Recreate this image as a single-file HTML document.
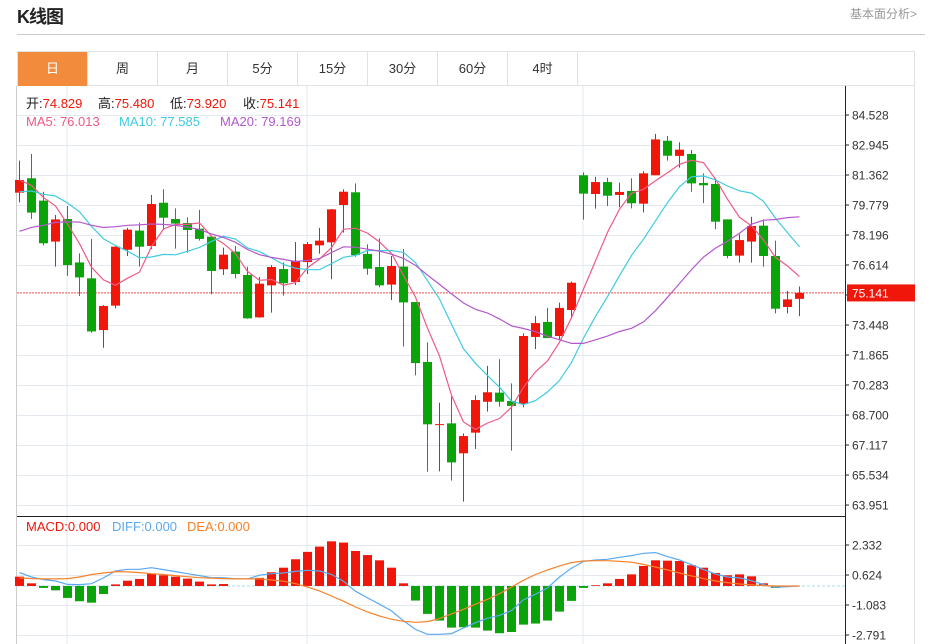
<!DOCTYPE html>
<html><head><meta charset="utf-8"><style>
body{margin:0;background:#fff;width:931px;height:644px;overflow:hidden;font-family:"Liberation Sans","Noto Sans CJK SC",sans-serif;}
#title{position:absolute;left:17px;top:3px;font-size:18px;font-weight:bold;color:#222;letter-spacing:-1px}
#more{position:absolute;right:14px;top:5px;font-size:12px;color:#999}
#hr{position:absolute;left:17px;top:34px;width:908px;height:1px;background:#ccc}
#tabs{position:absolute;left:17px;top:51px;height:35px;width:898px;border:1px solid #e2e2e2;box-sizing:border-box;display:flex}
.tab{width:70px;height:34px;line-height:34px;text-align:center;font-size:13px;color:#333;border-right:1px solid #e2e2e2;box-sizing:border-box;cursor:pointer}
.tab.on{background:#f28c3c;color:#fff}
svg{position:absolute;left:0;top:0}
</style></head><body>
<div id="title">K线图</div>
<div id="more">基本面分析&gt;</div>
<div id="hr"></div>
<div id="tabs">
<div class="tab on">日</div>
<div class="tab">周</div>
<div class="tab">月</div>
<div class="tab">5分</div>
<div class="tab">15分</div>
<div class="tab">30分</div>
<div class="tab">60分</div>
<div class="tab">4时</div>
</div>
<svg id="chart" width="931" height="644"></svg>
<script>
const opens=[80.43,81.19,80.01,77.85,79.04,76.75,75.91,73.18,74.47,77.42,78.43,77.62,79.90,79.04,78.83,78.53,78.11,76.39,77.32,76.09,73.85,75.54,76.40,75.72,76.77,77.65,77.81,79.78,80.45,77.20,76.51,75.58,76.53,74.66,71.50,68.21,68.26,66.68,67.77,69.40,69.88,69.44,69.28,72.82,73.61,72.87,74.24,81.35,80.36,80.99,80.31,80.52,79.85,81.35,83.17,82.37,82.47,80.94,80.89,79.02,77.11,77.85,78.69,77.09,74.40,74.829];
const closes=[81.10,79.38,77.76,79.02,76.61,75.96,73.11,74.45,77.58,78.48,77.58,79.83,79.11,78.80,78.46,77.99,76.30,77.16,76.14,73.80,75.63,76.51,75.65,76.84,77.72,77.90,79.55,80.48,77.14,76.42,75.54,76.56,74.64,71.44,68.21,68.22,66.20,67.59,69.49,69.90,69.40,69.18,72.87,73.55,72.76,74.35,75.68,80.38,80.99,80.27,80.47,79.87,81.45,83.24,82.38,82.70,80.92,80.82,78.90,77.09,77.93,78.67,77.09,74.31,74.80,75.141];
const highs=[82.12,82.47,80.48,79.25,79.73,77.23,77.99,74.50,77.60,78.57,78.85,80.31,80.61,79.60,79.13,79.52,78.11,77.53,77.62,76.53,75.98,76.60,76.75,77.83,77.83,78.57,79.57,80.61,80.92,77.70,78.02,77.09,77.46,74.66,72.53,69.35,69.67,67.73,69.74,71.29,71.65,70.37,73.01,73.92,74.35,74.63,75.74,81.50,81.27,81.22,80.96,81.19,81.56,83.53,83.42,83.09,82.68,81.45,81.10,79.02,78.23,79.16,79.02,77.90,75.24,75.48];
const lows=[79.92,79.04,77.65,76.53,76.05,74.98,73.05,72.25,74.33,77.09,76.53,77.46,78.46,77.48,77.27,77.90,75.07,76.09,75.91,73.78,73.83,74.10,75.00,75.56,76.14,77.21,75.86,78.32,77.05,76.10,75.44,74.77,72.31,70.79,65.71,65.73,65.24,64.13,66.91,68.88,69.14,66.82,69.11,72.18,72.76,72.66,73.77,79.01,79.59,79.73,79.66,79.60,79.39,81.35,82.12,81.75,80.48,79.88,78.50,76.97,76.74,76.74,76.53,74.06,74.06,73.92];
const priorCloses=[75.2,75.6,75.9,76.0,76.3,76.5,76.7,76.8,77.0,77.0,79.0,79.5,79.9,80.3,80.6,80.8,81.0,81.2,81.4];
const macdHist=[0.53,0.15,-0.11,-0.25,-0.68,-0.87,-0.95,-0.46,0.09,0.30,0.40,0.68,0.61,0.53,0.42,0.25,0.09,0.11,0.0,0.0,0.46,0.78,1.04,1.52,1.94,2.24,2.54,2.47,1.99,1.76,1.46,1.04,0.15,-0.83,-1.59,-1.97,-2.37,-2.35,-2.37,-2.54,-2.69,-2.62,-2.20,-2.14,-1.97,-1.46,-0.85,-0.11,0.04,0.15,0.40,0.66,1.14,1.46,1.44,1.42,1.18,1.04,0.74,0.61,0.66,0.55,0.15,-0.11,0.0,0.0];
const diffVals=[0.76,0.51,0.36,0.28,0.09,0.08,0.13,0.46,0.85,0.95,0.95,1.04,0.93,0.82,0.70,0.59,0.47,0.47,0.40,0.40,0.61,0.70,0.74,0.83,0.89,0.85,0.66,0.27,-0.30,-0.68,-1.04,-1.42,-1.98,-2.47,-2.75,-2.75,-2.71,-2.39,-2.09,-1.84,-1.67,-1.40,-0.78,-0.47,-0.11,0.51,1.01,1.40,1.48,1.52,1.63,1.73,1.86,1.90,1.67,1.48,1.21,0.93,0.68,0.51,0.46,0.30,0.08,-0.08,-0.04,0.0];
const deaVals=[0.46,0.42,0.40,0.40,0.42,0.51,0.65,0.74,0.82,0.80,0.76,0.70,0.65,0.59,0.53,0.47,0.44,0.42,0.40,0.40,0.40,0.34,0.27,0.13,-0.06,-0.28,-0.57,-0.87,-1.20,-1.48,-1.71,-1.90,-2.01,-2.07,-2.03,-1.86,-1.59,-1.33,-1.04,-0.76,-0.44,-0.06,0.32,0.65,0.91,1.14,1.33,1.42,1.44,1.44,1.40,1.35,1.23,1.08,0.91,0.74,0.57,0.42,0.28,0.19,0.11,0.06,0.02,0.0,0.0,0.0];
const priceTicks=[84.528,82.945,81.362,79.779,78.196,76.614,75.031,73.448,71.865,70.283,68.700,67.117,65.534,63.951];
const macdTicks=[2.332,0.624,-1.083,-2.791];
const lastPrice=75.141;

const NS='http://www.w3.org/2000/svg';
const svg=document.getElementById('chart');
function mk(tag,attrs,parent){const e=document.createElementNS(NS,tag);for(const k in attrs)e.setAttribute(k,attrs[k]);(parent||svg).appendChild(e);return e;}
const L=17,R=845;
const xOf=i=>19.5+12*i;
const yP=p=>115+(84.528-p)/1.5827*30;
const yM=v=>575+(0.624-v)/1.7075*30;
const RED='#f0160a',GREEN='#0aa30a';

let g=mk('g',{});


[67,307,583].forEach(x=>{mk('line',{x1:x,y1:86,x2:x,y2:644,stroke:'#e3e9ef','stroke-width':1},g);});
priceTicks.forEach((t,k)=>{ if(k===6)return; const y=Math.round(yP(t))+0.5; mk('line',{x1:L,y1:y,x2:R,y2:y,stroke:'#e3e9ef'},g);});
macdTicks.forEach(t=>{const y=Math.round(yM(t))+0.5; mk('line',{x1:L,y1:y,x2:R,y2:y,stroke:'#e3e9ef'},g);});
mk('line',{x1:16.5,y1:86,x2:16.5,y2:644,stroke:'#ccc'},g);
mk('line',{x1:914.5,y1:86,x2:914.5,y2:644,stroke:'#e2e2e2'},g);
mk('line',{x1:L,y1:516.5,x2:R,y2:516.5,stroke:'#222'},g);
mk('line',{x1:845.5,y1:86,x2:845.5,y2:644,stroke:'#222'},g);

priceTicks.forEach(t=>{const y=yP(t);
 const tk=mk('line',{x1:845,y1:y,x2:849,y2:y,stroke:'#222'});
 
 
 if(Math.abs(t-75.031)<0.01) return;
 const tx=mk('text',{x:852,y:y+4.5,'font-size':12,fill:'#333'});tx.textContent=t.toFixed(3);
 
 
});
macdTicks.forEach(t=>{const y=yM(t);
 mk('line',{x1:845,y1:y,x2:849,y2:y,stroke:'#222'});
 const tx=mk('text',{x:852,y:y+4.5,'font-size':12,fill:'#333'});tx.textContent=t.toFixed(3);
 
 
});

const ly=yP(lastPrice);
const pl=mk('line',{x1:L,y1:ly,x2:R,y2:ly,stroke:'#f05050','stroke-dasharray':'2,1','stroke-width':1});


const tagR=mk('rect',{x:847,y:ly-8.5,width:68,height:17,fill:'#f0160a'});


const tagT=mk('text',{x:852,y:ly+4.5,'font-size':12,fill:'#fff'});tagT.textContent=lastPrice.toFixed(3);



opens.forEach((o,i)=>{const c=closes[i],h=highs[i],l=lows[i];
 const up=c>=o, col=up?RED:GREEN, x=xOf(i);
 const cg=mk('g',{});
 
 
 mk('line',{x1:x,y1:yP(h),x2:x,y2:yP(l),stroke:col,'stroke-width':1},cg);
 const top=yP(Math.max(o,c)),bot=yP(Math.min(o,c));
 mk('rect',{x:x-4.5,y:top,width:9,height:Math.max(1,bot-top),fill:col},cg);
});

const all=priorCloses.concat(closes),P=priorCloses.length;
function ma(n){return closes.map((_,i)=>{let s=0;for(let k=0;k<n;k++)s+=all[P+i-k];return s/n;});}
[[5,'#ee5a84','ma5-line'],[10,'#3fcbe0','ma10-line'],[20,'#b358cc','ma20-line']].forEach(([n,col,name])=>{
 const v=ma(n);
 const p=mk('polyline',{points:v.map((m,i)=>xOf(i)+','+yP(m).toFixed(1)).join(' '),fill:'none',stroke:col,'stroke-width':1.2});
 
 
});

const z=yM(0);
const zl=mk('line',{x1:L,y1:z,x2:R,y2:z,stroke:'#a8d8ec','stroke-dasharray':'3,2'});


macdHist.forEach((v,i)=>{if(Math.abs(v)<0.02)return;
 const y=yM(v),x=xOf(i);
 const b=mk('rect',{x:x-4.5,y:Math.min(y,z),width:9,height:Math.abs(y-z),fill:v>0?RED:GREEN});
 
 
});
[[diffVals,'#5aa9f0','diff-line'],[deaVals,'#f7822a','dea-line']].forEach(([arr,col,name])=>{
 const p=mk('polyline',{points:arr.map((m,i)=>xOf(i)+','+yM(m).toFixed(1)).join(' '),fill:'none',stroke:col,'stroke-width':1.2});
 
 
});

function leg(x,y,parts,name){const t=mk('text',{x:x,y:y,'font-size':13});
 
 
 parts.forEach(([s,c])=>{const sp=mk('tspan',{fill:c},t);sp.textContent=s;});}
leg(26,108,[['开:','#222'],['74.829','#f0160a']],'open-legend');
leg(98,108,[['高:','#222'],['75.480','#f0160a']],'high-legend');
leg(170,108,[['低:','#222'],['73.920','#f0160a']],'low-legend');
leg(243,108,[['收:','#222'],['75.141','#f0160a']],'close-legend');
leg(26,126,[['MA5: 76.013','#ee5a84']],'ma5-legend');
leg(119,126,[['MA10: 77.585','#3fcbe0']],'ma10-legend');
leg(220,126,[['MA20: 79.169','#b358cc']],'ma20-legend');
leg(26,531,[['MACD:0.000','#f0160a']],'macd-legend');
leg(112,531,[['DIFF:0.000','#5aa9f0']],'diff-legend');
leg(187,531,[['DEA:0.000','#f7822a']],'dea-legend');
</script>
</body></html>
